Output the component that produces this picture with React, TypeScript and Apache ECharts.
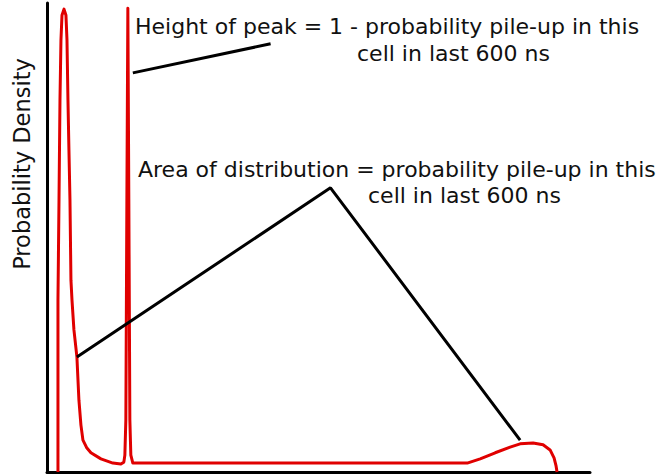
import React, { useEffect, useRef } from "react";
import * as echarts from "echarts";

// Probability density of the time since the last hit in the cell (arbitrary units, 0..100)
const curveX = [
  2.02, 2.02, 2.21, 2.39, 2.57, 2.76, 3.13, 3.49, 3.68, 3.86, 4.04, 4.23, 4.41, 4.6, 4.96,
  5.51, 5.88, 6.25, 6.62, 7.35, 8.09, 9.93, 12.13, 13.6, 14.15, 14.34, 14.52, 14.71, 14.89,
  15.07, 15.26, 15.44, 15.81, 77.39, 79.78, 82.54, 85.29, 87.13, 89.52, 91.36, 92.65, 93.38,
  93.75, 93.93,
];
const curveY = [
  0, 0.367, 0.58, 0.793, 0.921, 0.974, 0.987, 0.974, 0.921, 0.793, 0.687, 0.58, 0.409, 0.367,
  0.303, 0.245, 0.153, 0.1, 0.068, 0.051, 0.041, 0.028, 0.019, 0.017, 0.021, 0.036, 0.111, 0.58,
  0.989, 0.58, 0.111, 0.036, 0.019, 0.019, 0.028, 0.041, 0.053, 0.06, 0.062, 0.058, 0.047, 0.03,
  0.013, 0,
];

// Pointer lines from the notes to the features they describe
const peakPointerX = [15.81, 41.18];
const peakPointerY = [0.851, 0.913];
const areaPointerX = [5.51, 52.21, 87.13];
const areaPointerY = [0.245, 0.606, 0.068];

const peakNote = ["Height of peak = 1 - probability pile-up in this", "cell in last 600 ns"];
const areaNote = ["Area of distribution = probability pile-up in this", "cell in last 600 ns"];
const yTitle = "Probability Density";

const zip = (xs: number[], ys: number[]) => xs.map((x, i) => [x, ys[i]]);

const FONT = "DejaVu Sans";

export default function App() {
  const ref = useRef<HTMLDivElement>(null);

  useEffect(() => {
    if (!ref.current) return;
    document.body.style.margin = "0";
    const chart = echarts.init(ref.current, undefined, { renderer: "svg" });

    const noteText = (text: string, x: number, y: number) => ({
      type: "text",
      x,
      y,
      style: {
        text,
        font: `22px "${FONT}"`,
        fill: "#111",
        verticalAlign: "middle",
        align: "left",
      },
    });

    const pointer = (xs: number[], ys: number[]) => ({
      type: "line",
      data: zip(xs, ys),
      showSymbol: false,
      silent: true,
      lineStyle: { color: "#000", width: 3 },
      z: 3,
    });

    chart.setOption({
      animation: false,
      backgroundColor: "#fff",
      grid: { left: 47, right: 76, top: 3, bottom: 3 },
      xAxis: {
        type: "value",
        min: 0,
        max: 100,
        axisLine: { show: true, lineStyle: { color: "#000", width: 3 } },
        axisTick: { show: false },
        axisLabel: { show: false },
        splitLine: { show: false },
      },
      yAxis: {
        type: "value",
        min: 0,
        max: 1,
        axisLine: { show: true, lineStyle: { color: "#000", width: 3 } },
        axisTick: { show: false },
        axisLabel: { show: false },
        splitLine: { show: false },
      },
      series: [
        {
          type: "line",
          data: zip(curveX, curveY),
          showSymbol: false,
          silent: true,
          lineStyle: { color: "#e00000", width: 3, join: "round" },
          z: 2,
        },
        pointer(peakPointerX, peakPointerY),
        pointer(areaPointerX, areaPointerY),
      ],
      graphic: [
        noteText(peakNote[0], 135, 26),
        noteText(peakNote[1], 357, 53),
        noteText(areaNote[0], 138, 169),
        noteText(areaNote[1], 368, 195),
        {
          type: "text",
          x: 22,
          y: 164,
          rotation: Math.PI / 2,
          style: {
            text: yTitle,
            font: `22.5px "${FONT}"`,
            fill: "#111",
            align: "center",
            verticalAlign: "middle",
          },
        },
      ],
    });

    return () => chart.dispose();
  }, []);

  return <div ref={ref} style={{ width: 666, height: 475 }} />;
}
